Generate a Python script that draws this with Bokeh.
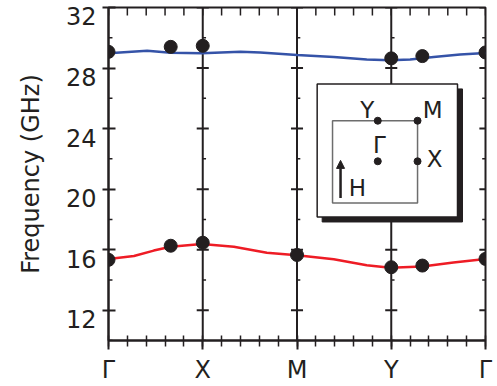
from bokeh.plotting import figure
from bokeh.models import (FixedTicker, LinearAxis, Label, Arrow, NormalHead, Range1d)
from bokeh.embed import file_html
from bokeh.resources import INLINE

# ---- data ----
sym_pos = [0, 1, 2, 3, 4]
sym_labels = ["Γ", "X", "M", "Y", "Γ"]

y_major = [12, 16, 20, 24, 28, 32]
y_minor = [10, 14, 18, 22, 26, 30]

# upper band (blue curve)
upper_x = [0, 0.41, 0.66, 0.99, 1.4, 1.61, 2.0, 2.39, 2.74, 2.99, 3.2, 3.45, 3.73, 4.0]
upper_y = [28.97, 29.14, 29.01, 28.97, 29.07, 29.03, 28.86, 28.73, 28.57, 28.51, 28.57, 28.73, 28.90, 28.99]
# lower band (red curve)
lower_x = [0, 0.27, 0.48, 0.66, 0.99, 1.33, 1.68, 2.0, 2.39, 2.74, 2.99, 3.33, 3.66, 4.0]
lower_y = [15.39, 15.58, 15.94, 16.19, 16.37, 16.19, 15.80, 15.63, 15.37, 14.97, 14.80, 14.89, 15.15, 15.39]

# measured points
upper_dot_x = [0, 0.66, 1.0, 3.0, 3.33, 4.0]
upper_dot_y = [29.07, 29.40, 29.47, 28.64, 28.79, 29.03]
lower_dot_x = [0, 0.66, 1.0, 2.0, 3.0, 3.33, 4.0]
lower_dot_y = [15.33, 16.26, 16.46, 15.65, 14.84, 14.95, 15.39]

INK = "#231f20"
BLUE = "#3553a8"
RED = "#ee1c25"
SANS = "DejaVu Sans"

# tick labels in the original sit a little below their tick marks
LABEL_DROP = 0.59  # in data units (about 9 px)

p = figure(width=497, height=386, x_range=Range1d(0, 4), y_range=Range1d(10, 32),
           output_backend="svg", toolbar_location=None,
           x_axis_type=None, y_axis_type=None,
           min_border_left=108, min_border_right=12, min_border_top=7, min_border_bottom=43)
p.grid.visible = False
p.outline_line_color = INK
p.outline_line_width = 2
p.background_fill_color = "white"
p.border_fill_color = "white"

# left axis: labels via (invisible) major ticks, tick marks via "minor" ticks at the values
label_pos = [round(v - LABEL_DROP, 2) for v in y_major]
yax = LinearAxis(ticker=FixedTicker(ticks=label_pos, minor_ticks=y_major),
                 axis_label="Frequency (GHz)")
yax.major_label_overrides = {lp: str(v) for lp, v in zip(label_pos, y_major)}
yax.axis_line_color = INK
yax.axis_line_width = 2
yax.major_tick_line_color = None
yax.major_tick_in = 0
yax.major_tick_out = 6
yax.minor_tick_line_color = INK
yax.minor_tick_line_width = 2
yax.minor_tick_in = 7
yax.minor_tick_out = 6
yax.major_label_text_font = SANS
yax.major_label_text_font_size = "24px"
yax.major_label_text_color = INK
yax.major_label_standoff = 6
yax.axis_label_text_font = SANS
yax.axis_label_text_font_size = "24px"
yax.axis_label_text_font_style = "normal"
yax.axis_label_text_color = INK
yax.axis_label_standoff = 18
p.add_layout(yax, "left")

# bottom axis: high-symmetry points
x_minor = [round(i * 0.2, 1) for i in range(21)]
xax = LinearAxis(ticker=FixedTicker(ticks=sym_pos, minor_ticks=x_minor))
xax.major_label_overrides = {pos: lab for pos, lab in zip(sym_pos, sym_labels)}
xax.axis_line_color = INK
xax.axis_line_width = 2
xax.major_tick_line_color = INK
xax.major_tick_line_width = 2
xax.major_tick_in = 0
xax.major_tick_out = 9
xax.minor_tick_line_color = INK
xax.minor_tick_line_width = 1.5
xax.minor_tick_in = 5
xax.minor_tick_out = 6
xax.major_label_text_font = SANS
xax.major_label_text_font_size = "24px"
xax.major_label_text_color = INK
xax.major_label_standoff = 6
p.add_layout(xax, "below")

# left inner minor ticks
p.segment(x0=[0] * len(y_minor), y0=y_minor, x1=[0.042] * len(y_minor), y1=y_minor,
          line_color=INK, line_width=1.5)
# top inner ticks
p.segment(x0=x_minor, y0=[32] * len(x_minor), x1=x_minor, y1=[31.47] * len(x_minor),
          line_color=INK, line_width=1.5)
# right inner ticks
p.segment(x0=[3.935] * len(y_major), y0=y_major, x1=[4] * len(y_major), y1=y_major,
          line_color=INK, line_width=2)
p.segment(x0=[3.965] * len(y_minor), y0=y_minor, x1=[4] * len(y_minor), y1=y_minor,
          line_color=INK, line_width=1.5)

# high-symmetry vertical lines with crossing ticks
inner = sym_pos[1:4]
p.segment(x0=inner, y0=[10] * 3, x1=inner, y1=[32] * 3, line_color=INK, line_width=2)
tx0, tx1, ty = [], [], []
for xs in inner:
    for yv in y_major:
        tx0.append(xs - 0.064); tx1.append(xs + 0.064); ty.append(yv)
p.segment(x0=tx0, y0=ty, x1=tx1, y1=ty, line_color=INK, line_width=2)
mx0, mx1, my = [], [], []
for xs in inner:
    for yv in y_minor:
        mx0.append(xs); mx1.append(xs + 0.035); my.append(yv)
p.segment(x0=mx0, y0=my, x1=mx1, y1=my, line_color=INK, line_width=1.5)

# bands
p.line(upper_x, upper_y, line_color=BLUE, line_width=2.5)
p.line(lower_x, lower_y, line_color=RED, line_width=2.5)
p.scatter(upper_dot_x, upper_dot_y, size=13, color=INK)
p.scatter(lower_dot_x, lower_dot_y, size=13, color=INK)

# ---- inset (Brillouin zone sketch) ----
p.quad(left=[2.267], right=[3.756], top=[26.62], bottom=[17.83], fill_color=INK, line_color=INK)
p.quad(left=[2.214], right=[3.703], top=[26.95], bottom=[18.16], fill_color="white",
       line_color=INK, line_width=1.5)
p.quad(left=[2.377], right=[3.279], top=[24.52], bottom=[19.08], fill_color=None,
       line_color="#6d6d6d", line_width=1.5)
p.scatter([2.857, 3.279, 2.857, 3.279], [24.52, 24.52, 21.84, 21.84], size=7, color=INK)
for txt, lx, ly in [("Y", 2.745, 25.2), ("M", 3.44, 25.2), ("Γ", 2.875, 22.89),
                    ("X", 3.46, 22.0), ("H", 2.642, 20.07)]:
    p.add_layout(Label(x=lx, y=ly, text=txt, text_font=SANS, text_font_size="23px",
                       text_color=INK, text_align="center", text_baseline="middle"))
p.add_layout(Arrow(x_start=2.462, y_start=19.41, x_end=2.462, y_end=21.9,
                   line_color=INK, line_width=2.5,
                   end=NormalHead(size=8, fill_color=INK, line_color=INK)))

open("out.html", "w").write(file_html(p, INLINE))
